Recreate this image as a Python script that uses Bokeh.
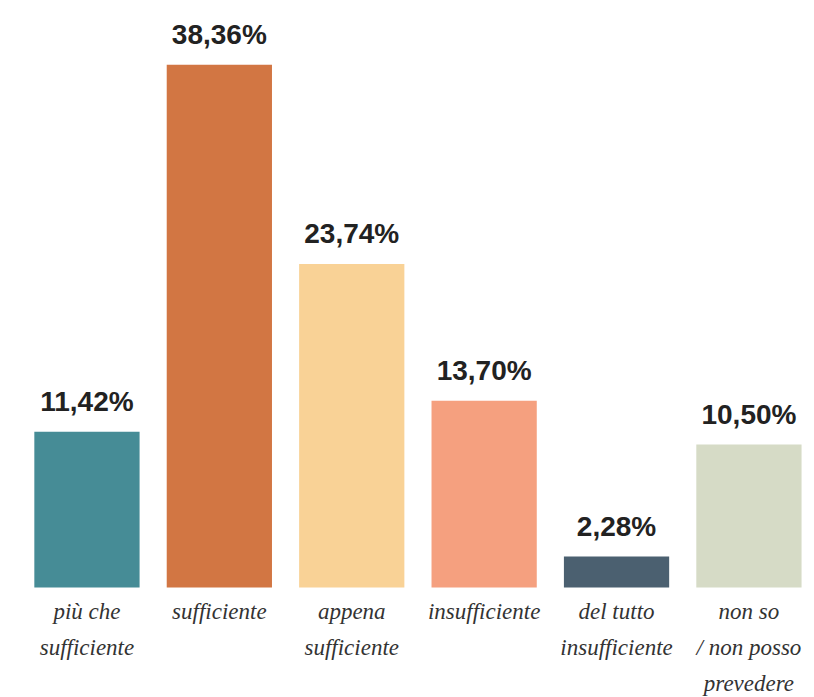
from bokeh.plotting import figure
from bokeh.models import ColumnDataSource, Range1d
from bokeh.embed import file_html
from bokeh.resources import INLINE
from bokeh.core.properties import value

categories = ["più che\nsufficiente", "sufficiente", "appena\nsufficiente",
              "insufficiente", "del tutto\ninsufficiente", "non so\n/ non posso\nprevedere"]
values = [11.42, 38.36, 23.74, 13.70, 2.28, 10.50]
value_labels = ["11,42%", "38,36%", "23,74%", "13,70%", "2,28%", "10,50%"]
colors = ["#468C96", "#D27643", "#F9D296", "#F5A07F", "#4B6070", "#D6DBC6"]

xs = list(range(len(categories)))
src = ColumnDataSource(dict(x=xs, top=values, bottom=[0] * len(xs), color=colors,
                            lab=value_labels, cat=categories))

W, H = 810, 697
p = figure(width=W, height=H, output_backend="svg", toolbar_location=None,
           x_range=Range1d(-0.653, 5.465), y_range=Range1d(-8.07, 43.07),
           min_border_left=0, min_border_right=0, min_border_top=0, min_border_bottom=0)
p.axis.visible = False
p.grid.visible = False
p.outline_line_color = None
p.background_fill_color = "white"
p.border_fill_color = "white"

p.vbar(x="x", top="top", bottom="bottom", width=0.795, fill_color="color",
       line_color=None, source=src)

p.text(x="x", y="top", text="lab", source=src, text_align="center",
       text_baseline="alphabetic", y_offset=-30, text_font=value("Liberation Sans"),
       text_font_style="bold", text_font_size="28px", text_color="#222222")

p.text(x="x", y="bottom", text="cat", source=src, text_align="center",
       text_baseline="top", y_offset=11, text_font=value("Liberation Serif"),
       text_font_style="italic", text_font_size="23px", text_color="#333333",
       text_line_height=1.45)

open("out.html", "w").write(file_html(p, INLINE))
